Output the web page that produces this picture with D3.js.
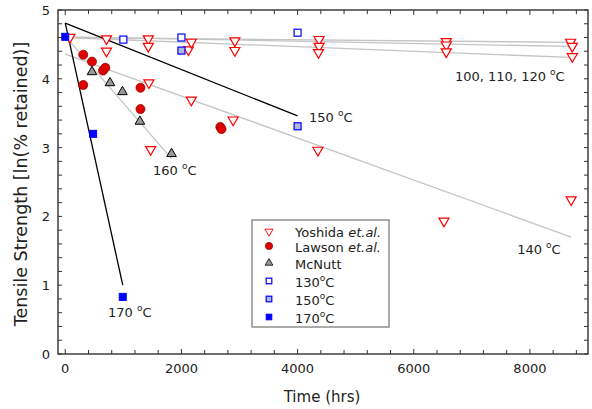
<!DOCTYPE html>
<html><head><meta charset="utf-8">
<script src="https://cdn.jsdelivr.net/npm/d3@7"></script>
<style>body{margin:0;background:#fff}svg{display:block}text{font-family:"DejaVu Sans",sans-serif;fill:#222}</style>
</head><body><svg id="c" width="592" height="409"></svg>
<script>
// ---- data ----
const yoshidaLow = [[80,4.61],[710,4.59],[710,4.41],[1430,4.59],[1430,4.48],[2120,4.43],[2170,4.54],[2920,4.56],[2920,4.42],[4370,4.58],[4370,4.48],[4360,4.39],[6560,4.55],[6560,4.50],[6560,4.40],[8700,4.54],[8730,4.48],[8730,4.33]];
const yoshida140 = [[1440,3.95],[2170,3.70],[2890,3.41],[1470,2.98],[4350,2.97],[6520,1.94],[8710,2.25]];
const lawson = [[310,4.35],[460,4.25],[650,4.12],[690,4.16],[310,3.91],[1295,3.87],[1295,3.56],[2670,3.30],[2690,3.27]];
const mcnutt = [[460,4.10],[770,3.94],[985,3.81],[1285,3.38],[1830,2.91]];
const s130 = [[1000,4.57],[2000,4.60],[4000,4.67]];
const s150 = [[2000,4.41],[4000,3.31]];
const s170 = [[0,4.61],[480,3.20],[990,0.83]];
// fit lines [t0,y0,t1,y1]
const blackLines = [[0,4.81,4000,3.46],[0,4.81,990,1.0]];
const grayLines = [[0,4.60,8700,4.53],[0,4.61,8700,4.47],[0,4.60,8700,4.31],[0,4.36,8710,1.70],[0,4.62,1830,2.84]];
const xTicks = [0,2000,4000,6000,8000];
const yTicks = [0,1,2,3,4,5];
const lineLabels = [{t:"100, 110, 120 ",x:6710,y:3.97},{t:"150 ",x:4197,y:3.375},{t:"160 ",x:1511,y:2.60},{t:"140 ",x:7780,y:1.46},{t:"170 ",x:736,y:0.54}];
const legendItems = [{n:"Yoshida ",i:"et.al.",k:"yos"},{n:"Lawson ",i:"et.al.",k:"law"},{n:"McNutt",i:"",k:"mcn"},{n:"130",deg:true,k:"s130"},{n:"150",deg:true,k:"s150"},{n:"170",deg:true,k:"s170"}];

const svg = d3.select("#c");
const L=58,R=588,T=10,B=354;
const x = d3.scaleLinear().domain([-125,9000]).range([L,R]);
const y = d3.scaleLinear().domain([0,5]).range([B,T]);

// lines
svg.append("g").selectAll("line").data(grayLines).join("line")
  .attr("x1",d=>x(d[0])).attr("y1",d=>y(d[1])).attr("x2",d=>x(d[2])).attr("y2",d=>y(d[3]))
  .attr("stroke","#c4c4c4").attr("stroke-width",1.3);
svg.append("g").selectAll("line").data(blackLines).join("line")
  .attr("x1",d=>x(d[0])).attr("y1",d=>y(d[1])).attr("x2",d=>x(d[2])).attr("y2",d=>y(d[3]))
  .attr("stroke","#000").attr("stroke-width",1.3);

// markers
const triDown = d3.symbol().type(d3.symbolTriangle).size(44)();
const triUp = d3.symbol().type(d3.symbolTriangle).size(40)();
function draw(k,g,cx,cy,sc){
  sc=sc||1;
  if(k==="yos") g.append("path").attr("d",triDown).attr("transform",`translate(${cx},${cy+0.5}) rotate(180) scale(${sc})`).attr("fill","#fff").attr("stroke","#f00").attr("stroke-width",1.2);
  if(k==="law") g.append("circle").attr("cx",cx).attr("cy",cy).attr("r",4.5*sc).attr("fill","#e00000").attr("stroke","#900").attr("stroke-width",0.8);
  if(k==="mcn") g.append("path").attr("d",triUp).attr("transform",`translate(${cx},${cy}) scale(${sc})`).attr("fill","#999").attr("stroke","#000").attr("stroke-width",1);
  const s=7*sc;
  if(k==="s130") g.append("rect").attr("x",cx-s/2).attr("y",cy-s/2).attr("width",s).attr("height",s).attr("fill","#fff").attr("stroke","#0000ff").attr("stroke-width",1.2);
  if(k==="s150") g.append("rect").attr("x",cx-s/2).attr("y",cy-s/2).attr("width",s).attr("height",s).attr("fill","#b0b8d8").attr("stroke","#0000ff").attr("stroke-width",1.2);
  if(k==="s170") g.append("rect").attr("x",cx-s/2).attr("y",cy-s/2).attr("width",s).attr("height",s).attr("fill","#0000ff").attr("stroke","#0000ff").attr("stroke-width",1);
}
const mg = svg.append("g");
[["yos",yoshidaLow],["yos",yoshida140],["law",lawson],["mcn",mcnutt],["s130",s130],["s150",s150],["s170",s170]].forEach(([k,arr])=>{
  arr.forEach(d=>draw(k,mg,x(d[0]),y(d[1])));
});

// frame & ticks
const fr = svg.append("g").attr("stroke","#333").attr("stroke-width",1.4);
fr.append("rect").attr("x",L).attr("y",T).attr("width",R-L).attr("height",B-T).attr("fill","none");
const xMinor = d3.range(0,9000,400), yMinor = d3.range(0,5.001,0.2);
xMinor.forEach(t=>{
  const len = t%2000===0?5:4;
  fr.append("line").attr("x1",x(t)).attr("x2",x(t)).attr("y1",B).attr("y2",B-len).attr("stroke-width",1);
  fr.append("line").attr("x1",x(t)).attr("x2",x(t)).attr("y1",T).attr("y2",T+len).attr("stroke-width",1);
});
yMinor.forEach(v=>{
  fr.append("line").attr("x1",L).attr("x2",L+4).attr("y1",y(v)).attr("y2",y(v)).attr("stroke-width",1);
  fr.append("line").attr("x1",R).attr("x2",R-4).attr("y1",y(v)).attr("y2",y(v)).attr("stroke-width",1);
});
svg.append("g").selectAll("text").data(xTicks).join("text")
  .attr("x",d=>x(d)).attr("y",B+19).attr("text-anchor","middle").attr("font-size",13).text(d=>d);
svg.append("g").selectAll("text").data(yTicks).join("text")
  .attr("x",L-8).attr("y",d=>y(d)+5).attr("text-anchor","end").attr("font-size",13).text(d=>d);

svg.append("text").attr("x",322).attr("y",402).attr("text-anchor","middle").attr("font-size",15).text("Time (hrs)");
svg.append("text").attr("transform","translate(27,184) rotate(-90)").attr("text-anchor","middle").attr("font-size",17.5).text("Tensile Strength [ln(% retained)]");

// line labels
lineLabels.forEach(l=>{
  const t=svg.append("text").attr("x",x(l.x)).attr("y",y(l.y)).attr("font-size",13);
  t.append("tspan").text(l.t);
  t.append("tspan").attr("font-size",9).attr("dy",-6).text("o");
  t.append("tspan").attr("dy",6).text("C");
});

// legend
const lg = svg.append("g");
lg.append("rect").attr("x",252).attr("y",220).attr("width",137).attr("height",107).attr("fill","#fff").attr("stroke","#888").attr("stroke-width",1.4);
const rows=[232,247,264,282,300,318];
legendItems.forEach((it,i)=>{
  draw(it.k,lg,269,rows[i]-1,0.8);
  const t=lg.append("text").attr("x",295).attr("y",rows[i]+4.5).attr("font-size",13);
  t.append("tspan").text(it.n);
  if(it.i) t.append("tspan").attr("font-style","italic").text(it.i);
  if(it.deg){t.append("tspan").attr("font-size",9).attr("dy",-6).text("o");t.append("tspan").attr("dy",6).text("C");}
});
</script></body></html>
